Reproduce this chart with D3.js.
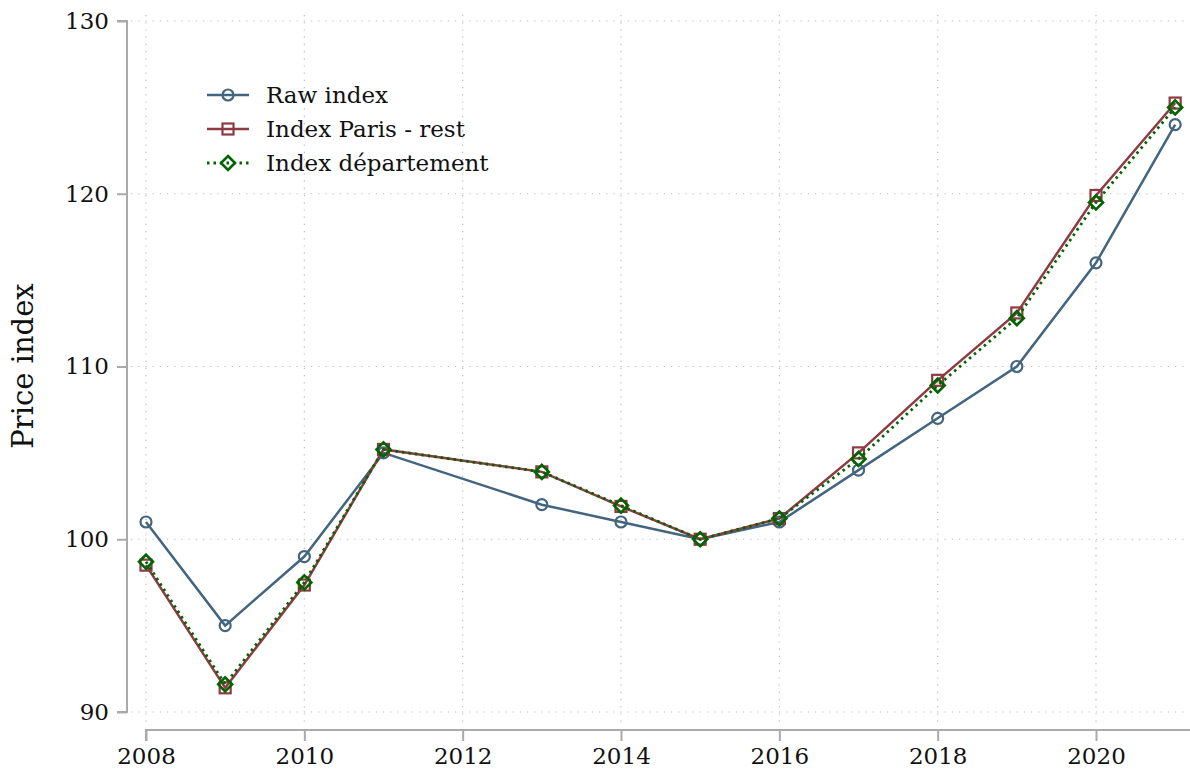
<!DOCTYPE html>
<html>
<head>
<meta charset="utf-8">
<script src="https://cdn.jsdelivr.net/npm/d3@7"></script>
<style>
  body { margin: 0; background: #fff; }
  svg text { font-family: "DejaVu Serif", serif; fill: #111; }
</style>
</head>
<body>
<svg id="chart" width="1190" height="772"></svg>
<script>
// years (no 2012 observation)
const years = [2008, 2009, 2010, 2011, 2013, 2014, 2015, 2016, 2017, 2018, 2019, 2020, 2021];
const rawIndex = [101, 95, 99, 105, 102, 101, 100, 101, 104, 107, 110, 116, 124];
const parisRest = [98.5, 91.4, 97.35, 105.2, 103.9, 101.9, 100, 101.2, 105.0, 109.2, 113.1, 119.9, 125.25];
const departement = [98.7, 91.6, 97.5, 105.2, 103.9, 101.95, 100, 101.2, 104.65, 108.9, 112.8, 119.5, 125.0];
const xTicks = [2008, 2010, 2012, 2014, 2016, 2018, 2020];
const yTicks = [90, 100, 110, 120, 130];

const series = [
    { name: "Raw index", values: rawIndex, color: "#43657f", marker: "circle", dash: null },
    { name: "Index Paris - rest", values: parisRest, color: "#8f3a42", marker: "square", dash: null },
    { name: "Index département", values: departement, color: "#006400", marker: "diamond", dash: "2.5,4" }
];

const svg = d3.select("#chart");

const x = d3.scaleLinear().domain([2008, 2020]).range([146, 1096]);
const y = d3.scaleLinear().domain([90, 130]).range([712, 21]);

// grid
const grid = svg.append("g").attr("class", "grid");
grid.selectAll("line.h")
    .data(yTicks)
    .enter().append("line")
    .attr("x1", 131).attr("x2", 1186)
    .attr("y1", d => y(d)).attr("y2", d => y(d))
    .attr("stroke", "#bbb").attr("stroke-width", 1.2)
    .attr("stroke-dasharray", "1.2,6");
grid.selectAll("line.v")
    .data(xTicks)
    .enter().append("line")
    .attr("x1", d => x(d)).attr("x2", d => x(d))
    .attr("y1", 15).attr("y2", 722)
    .attr("stroke", "#bbb").attr("stroke-width", 1.2)
    .attr("stroke-dasharray", "1.2,6");

// axes
const yAxis = svg.append("g")
    .attr("transform", "translate(127,0)")
    .call(d3.axisLeft(y).tickValues(yTicks).tickSize(10).tickPadding(8));
yAxis.select(".domain").attr("stroke", "#aaa").attr("stroke-width", 2)
    .attr("d", `M-10,${y(130)}H0V${y(90)}H-10`);
yAxis.selectAll(".tick line").attr("stroke", "#aaa").attr("stroke-width", 2);
yAxis.selectAll(".tick text").attr("font-size", 23).attr("font-family", "DejaVu Serif").attr("fill", "#111");

const xAxis = svg.append("g")
    .attr("transform", "translate(0,730)")
    .call(d3.axisBottom(x).tickValues(xTicks).tickFormat(d3.format("d")).tickSize(11).tickPadding(7));
xAxis.select(".domain").attr("stroke", "#aaa").attr("stroke-width", 2)
    .attr("d", `M${x(2008)},11V0H1190`);
xAxis.selectAll(".tick line").attr("stroke", "#aaa").attr("stroke-width", 2);
xAxis.selectAll(".tick text").attr("font-size", 23).attr("font-family", "DejaVu Serif").attr("fill", "#111");

svg.append("text")
    .attr("transform", "translate(33,366) rotate(-90)")
    .attr("text-anchor", "middle")
    .attr("font-size", 29)
    .text("Price index");

// markers
function drawMarker(g, type, cx, cy, color) {
    if (type === "circle") {
        g.append("circle").attr("cx", cx).attr("cy", cy).attr("r", 5.5)
            .attr("fill", "none").attr("stroke", color).attr("stroke-width", 2.2);
    } else if (type === "square") {
        g.append("rect").attr("x", cx - 5.5).attr("y", cy - 5.5).attr("width", 11).attr("height", 11)
            .attr("fill", "none").attr("stroke", color).attr("stroke-width", 2.2);
    } else {
        const s = 7;
        g.append("path").attr("d", `M${cx},${cy - s}L${cx + s},${cy}L${cx},${cy + s}L${cx - s},${cy}Z`)
            .attr("fill", "none").attr("stroke", color).attr("stroke-width", 2.6);
    }
}

const line = d3.line().x(d => x(d[0])).y(d => y(d[1]));

series.forEach(s => {
    const pts = years.map((yr, i) => [yr, s.values[i]]);
    const g = svg.append("g");
    g.append("path")
        .datum(pts)
        .attr("d", line)
        .attr("fill", "none")
        .attr("stroke", s.color)
        .attr("stroke-width", s.dash ? 2.8 : 2.5)
        .attr("stroke-dasharray", s.dash);
    pts.forEach(p => drawMarker(g, s.marker, x(p[0]), y(p[1]), s.color));
});

// legend
const legend = svg.append("g");
series.forEach((s, i) => {
    const ly = 95 + i * 34;
    const g = legend.append("g");
    g.append("line")
        .attr("x1", 207).attr("x2", 249).attr("y1", ly).attr("y2", ly)
        .attr("stroke", s.color).attr("stroke-width", s.dash ? 2.8 : 2.5)
        .attr("stroke-dasharray", s.dash);
    drawMarker(g, s.marker, 228, ly, s.color);
    g.append("text")
        .attr("x", 266).attr("y", ly)
        .attr("dy", "0.35em")
        .attr("font-size", 23)
        .text(s.name);
});
</script>
</body>
</html>
